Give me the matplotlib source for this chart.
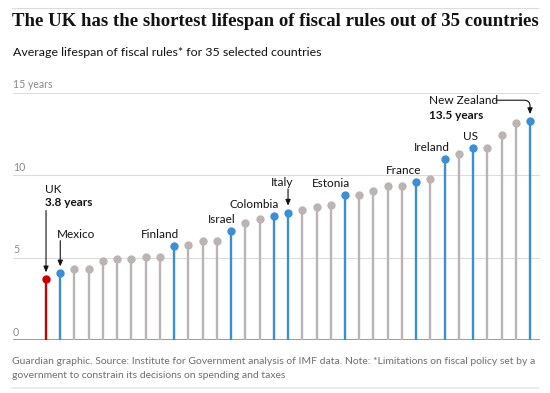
import numpy as np
import matplotlib
matplotlib.use('Agg')
from matplotlib import pyplot as plt

# values, sorted shortest to longest
countries = ['UK', 'Mexico', 'c3', 'c4', 'c5', 'c6', 'c7', 'c8', 'c9', 'Finland',
             'c11', 'c12', 'c13', 'Israel', 'c15', 'c16', 'Colombia', 'Italy',
             'c19', 'c20', 'c21', 'Estonia', 'c23', 'c24', 'c25', 'c26', 'France',
             'c28', 'Ireland', 'c30', 'US', 'c32', 'c33', 'c34', 'New Zealand']
lifespan = [3.68, 4.04, 4.3, 4.3, 4.81, 4.91, 4.91, 5.03, 5.05, 5.68,
            5.78, 6.0, 6.0, 6.61, 7.11, 7.35, 7.53, 7.72, 7.88, 8.06,
            8.16, 8.77, 8.77, 9.03, 9.33, 9.33, 9.59, 9.76, 10.95, 11.27,
            11.62, 11.62, 12.41, 13.17, 13.27]
highlight = ['Mexico', 'Finland', 'Israel', 'Colombia', 'Italy', 'Estonia',
             'France', 'Ireland', 'US', 'New Zealand']
yticks = [0, 5, 10, 15]

red = '#c70000'
blue = '#3c8fd4'
grey = '#bcb4b2'

fig = plt.figure(figsize=(5.5, 3.93), dpi=100)
W, H = 550, 393

ax = fig.add_axes([13 / W, (H - 340) / H, 527 / W, 247.5 / H])
ax.set_xlim(-2.32, 34.70)
ax.set_ylim(0, 15)
ax.axis('off')

for t in yticks:
    ax.axhline(t, color='#dcdcdc', lw=0.8, zorder=0)
    lab = '15 years' if t == 15 else str(t)
    ax.annotate(lab, xy=(0, t), xycoords=('axes fraction', 'data'),
                xytext=(0, 1.5), textcoords='offset points',
                fontsize=7.6, color='#8a8a8a', family='Lato', va='bottom')
ax.axhline(0, color='#8c8c8c', lw=1.2, zorder=1)

x = np.arange(len(lifespan))
for i, (c, v) in enumerate(zip(countries, lifespan)):
    col = red if c == 'UK' else (blue if c in highlight else grey)
    ax.plot([i, i], [0, v], color=col, lw=1.7, solid_capstyle='butt', zorder=2)
    ax.plot(i, v, 'o', color=col, ms=6, mec='none', zorder=3)

lab_kw = dict(fontsize=8.5, color='#121212', family='Lato')
arrow = dict(arrowstyle='-|>,head_length=0.35,head_width=0.15',
             color='#121212', lw=0.8, shrinkA=0, shrinkB=5)

# plain labels sitting just above their dot
for c in ['Finland', 'Israel', 'Colombia', 'Estonia', 'France', 'Ireland', 'US']:
    i = countries.index(c)
    ax.annotate(c, xy=(i, lifespan[i]), xytext=(3.6, 4.4), textcoords='offset points',
                ha='right', va='bottom', **lab_kw)

# UK
i = countries.index('UK')
ax.annotate('UK', xy=(i, lifespan[i]), xytext=(-1, 65), textcoords='offset points',
            ha='left', va='center', **lab_kw)
ax.annotate('3.8 years', xy=(i, lifespan[i]), xytext=(-1, 55), textcoords='offset points',
            ha='left', va='center', fontweight='bold', **lab_kw)
ax.annotate('', xy=(i, lifespan[i]), xytext=(0, 49.5), textcoords='offset points',
            arrowprops=arrow)

# Mexico
i = countries.index('Mexico')
ax.annotate('Mexico', xy=(i, lifespan[i]), xytext=(-2.5, 28), textcoords='offset points',
            ha='left', va='center', **lab_kw)
ax.annotate('', xy=(i, lifespan[i]), xytext=(0, 23.5), textcoords='offset points',
            arrowprops=arrow)

# Italy
i = countries.index('Italy')
ax.annotate('Italy', xy=(i, lifespan[i]), xytext=(3.6, 22), textcoords='offset points',
            ha='right', va='center', **lab_kw)
ax.annotate('', xy=(i, lifespan[i]), xytext=(0, 17), textcoords='offset points',
            arrowprops=arrow)

# New Zealand
i = countries.index('New Zealand')
ax.annotate('New Zealand', xy=(i, lifespan[i]), xytext=(-73, 14.8), textcoords='offset points',
            ha='left', va='center', **lab_kw)
ax.annotate('13.5 years', xy=(i, lifespan[i]), xytext=(-73, 4.3), textcoords='offset points',
            ha='left', va='center', fontweight='bold', **lab_kw)
ax.annotate('', xy=(i, lifespan[i]), xytext=(-24.5, 15), textcoords='offset points',
            arrowprops=dict(arrow, connectionstyle='angle,angleA=0,angleB=90,rad=6'))

# header / footer
fig.add_artist(plt.Line2D([12 / W, 538 / W], [(H - 8) / H] * 2, color='#dcdcdc', lw=0.8))
fig.text(12 / W, (H - 22) / H, 'The UK has the shortest lifespan of fiscal rules out of 35 countries',
         fontsize=13.5, fontweight='bold', family='Liberation Serif', color='#121212', va='center')
fig.text(13 / W, (H - 52) / H, 'Average lifespan of fiscal rules* for 35 selected countries',
         fontsize=8.9, family='Lato', color='#121212', va='center')
fig.text(12 / W, (H - 362) / H,
         'Guardian graphic. Source: Institute for Government analysis of IMF data. '
         'Note: *Limitations on fiscal policy set by a',
         fontsize=7.47, family='Lato', color='#6f6f6f', va='center')
fig.text(12 / W, (H - 375) / H, 'government to constrain its decisions on spending and taxes',
         fontsize=7.47, family='Lato', color='#6f6f6f', va='center')
fig.add_artist(plt.Line2D([12 / W, 538 / W], [(H - 388) / H] * 2, color='#ececec', lw=1.5))

fig.savefig('out.png', dpi=100)
